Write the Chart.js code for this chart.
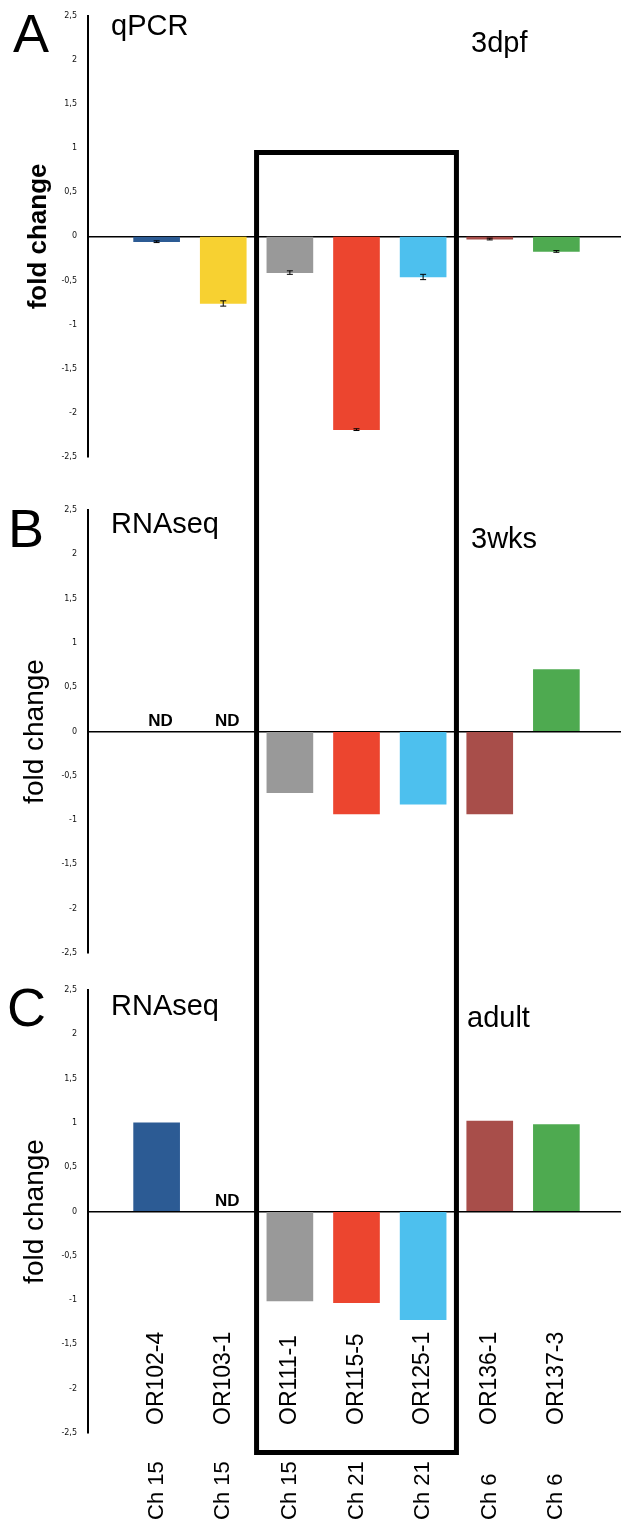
<!DOCTYPE html>
<html>
<head>
<meta charset="utf-8">
<script src="https://cdn.jsdelivr.net/npm/chart.js@4.4.1/dist/chart.umd.min.js"></script>
<style>
  html, body { margin: 0; padding: 0; background: #fff; }
  #wrap { position: relative; width: 621px; height: 1530px; overflow: hidden; }
  canvas { position: absolute; left: 0; }
</style>
</head>
<body>
<div id="wrap">
  <canvas id="panelA" width="621" height="480" style="top:0px"></canvas>
  <canvas id="panelB" width="621" height="490" style="top:480px"></canvas>
  <canvas id="panelC" width="621" height="560" style="top:970px"></canvas>
</div>
<script>
// genes on the x axis, one bar each (positions 1..7)
var genes = ['OR102-4', 'OR103-1', 'OR111-1', 'OR115-5', 'OR125-1', 'OR136-1', 'OR137-3'];
var chromosomes = ['Ch 15', 'Ch 15', 'Ch 15', 'Ch 21', 'Ch 21', 'Ch 6', 'Ch 6'];
var xPos = [1, 2, 3, 4, 5, 6, 7];
var barColors = ['#2c5b94', '#f7d131', '#999999', '#ec452f', '#4dc0ee', '#a84e4a', '#4eaa50'];

// A: qPCR 3dpf (with error)
var qpcr3dpf = [-0.06, -0.76, -0.41, -2.19, -0.46, -0.03, -0.17];
var qpcr3dpfErr = [0.01, 0.03, 0.02, 0.01, 0.03, 0.01, 0.01];
// B: RNAseq 3wks (null = ND)
var rnaseq3wks = [null, null, -0.69, -0.93, -0.82, -0.93, 0.70];
// C: RNAseq adult
var rnaseqAdult = [1.00, null, -1.01, -1.03, -1.22, 1.02, 0.98];

var yTicks = [-2.5, -2, -1.5, -1, -0.5, 0, 0.5, 1, 1.5, 2, 2.5];

// highlighted box goes around genes 3..5
var boxEdges = [2.5, 5.5];

var FONT = "'Liberation Sans', Arial, Helvetica, sans-serif";

function decor(cfg) {
  return {
    id: 'decor',
    afterDatasetsDraw: function (chart) {
      var c = chart.ctx, xs = chart.scales.x, ys = chart.scales.y;
      c.save();

      // error bars
      if (cfg.errors) {
        c.strokeStyle = '#000';
        c.lineWidth = 1;
        cfg.values.forEach(function (v, i) {
          if (v === null) return;
          var x = xs.getPixelForValue(xPos[i]);
          var y1 = ys.getPixelForValue(v - cfg.errors[i]);
          var y2 = ys.getPixelForValue(v + cfg.errors[i]);
          c.beginPath();
          c.moveTo(x, y1); c.lineTo(x, y2);
          c.moveTo(x - 3, y1); c.lineTo(x + 3, y1);
          c.moveTo(x - 3, y2); c.lineTo(x + 3, y2);
          c.stroke();
        });
      }

      // ND marks
      c.fillStyle = '#000';
      c.font = 'bold 17px ' + FONT;
      c.textAlign = 'center';
      c.textBaseline = 'alphabetic';
      cfg.values.forEach(function (v, i) {
        if (v !== null) return;
        c.fillText('ND', xs.getPixelForValue(xPos[i]) + 4, ys.getPixelForValue(0) - 6);
      });

      // box
      var x1 = xs.getPixelForValue(boxEdges[0]);
      var x2 = xs.getPixelForValue(boxEdges[1]);
      var H = chart.height;
      c.strokeStyle = '#000';
      c.lineWidth = 5;
      c.lineJoin = 'miter';
      c.beginPath();
      if (cfg.boxTop !== undefined) {
        var t = ys.getPixelForValue(cfg.boxTop);
        c.moveTo(x1, H); c.lineTo(x1, t); c.lineTo(x2, t); c.lineTo(x2, H);
      } else if (cfg.boxBottom !== undefined) {
        var b = ys.getPixelForValue(cfg.boxBottom);
        c.moveTo(x1, 0); c.lineTo(x1, b); c.lineTo(x2, b); c.lineTo(x2, 0);
      } else {
        c.moveTo(x1, 0); c.lineTo(x1, H);
        c.moveTo(x2, 0); c.lineTo(x2, H);
      }
      c.stroke();

      // panel letter, method, stage
      c.textAlign = 'left';
      c.font = '54px ' + FONT;
      c.fillText(cfg.letter, cfg.letterX, cfg.letterY);
      c.font = '29px ' + FONT;
      c.fillText(cfg.method, 111, cfg.methodY);
      c.fillText(cfg.stage, cfg.stageX, cfg.stageY);

      // gene / chromosome labels
      if (cfg.geneLabels) {
        genes.forEach(function (g, i) {
          var x = xs.getPixelForValue(xPos[i]);
          c.save();
          c.translate(x, 455);
          c.rotate(-Math.PI / 2);
          c.textBaseline = 'middle';
          c.font = '23px ' + FONT;
          c.fillText(g, 0, 0);
          c.restore();
          c.save();
          c.translate(x, 550);
          c.rotate(-Math.PI / 2);
          c.textBaseline = 'middle';
          c.font = '22px ' + FONT;
          c.fillText(chromosomes[i], 0, 0);
          c.restore();
        });
      }
      c.restore();
    }
  };
}

function makePanel(id, values, padTop, padBottom, titleFont, titlePad, cfg) {
  cfg.values = values;
  return new Chart(document.getElementById(id).getContext('2d'), {
    type: 'bar',
    data: {
      datasets: [{
        data: values.map(function (v, i) { return {x: xPos[i], y: v}; }),
        backgroundColor: barColors,
        borderWidth: 0,
        barThickness: 46
      }]
    },
    options: {
      responsive: false,
      animation: false,
      events: [],
      layout: {padding: {top: padTop, bottom: padBottom, left: 0, right: 0}},
      plugins: {legend: {display: false}, tooltip: {enabled: false}},
      scales: {
        x: {type: 'linear', display: false, offset: false, min: -0.03, max: 7.97},
        y: {
          min: -2.5,
          max: 2.5,
          afterBuildTicks: function (s) {
            s.ticks = yTicks.map(function (v) { return {value: v}; });
          },
          afterFit: function (s) { s.width = 88; },
          border: {display: true, color: '#000', width: 2},
          grid: {
            drawTicks: false,
            lineWidth: 1.5,
            color: function (c) {
              return c.tick && c.tick.value === 0 ? '#000' : 'rgba(0,0,0,0)';
            }
          },
          ticks: {
            padding: 11,
            color: '#111',
            font: {family: 'DejaVu Sans', size: 8},
            callback: function (v) { return String(v).replace('.', ','); }
          },
          title: {
            display: true,
            text: 'fold change',
            color: '#000',
            font: titleFont,
            padding: {top: titlePad, bottom: 0}
          }
        }
      }
    },
    plugins: [decor(cfg)]
  });
}

makePanel('panelA', qpcr3dpf, 15, 23,
  {family: FONT, size: 26, weight: 'bold'}, 23,
  {errors: qpcr3dpfErr, boxTop: 0.95, letter: 'A', letterX: 13, letterY: 52,
   method: 'qPCR', methodY: 35, stage: '3dpf', stageX: 471, stageY: 52});

makePanel('panelB', rnaseq3wks, 30, 17,
  {family: FONT, size: 28, weight: 'normal'}, 18,
  {letter: 'B', letterX: 8, letterY: 67,
   method: 'RNAseq', methodY: 53, stage: '3wks', stageX: 471, stageY: 68});

makePanel('panelC', rnaseqAdult, 20, 97,
  {family: FONT, size: 28, weight: 'normal'}, 18,
  {boxBottom: -2.72, geneLabels: true, letter: 'C', letterX: 7, letterY: 56,
   method: 'RNAseq', methodY: 45, stage: 'adult', stageX: 467, stageY: 57});
</script>
</body>
</html>
